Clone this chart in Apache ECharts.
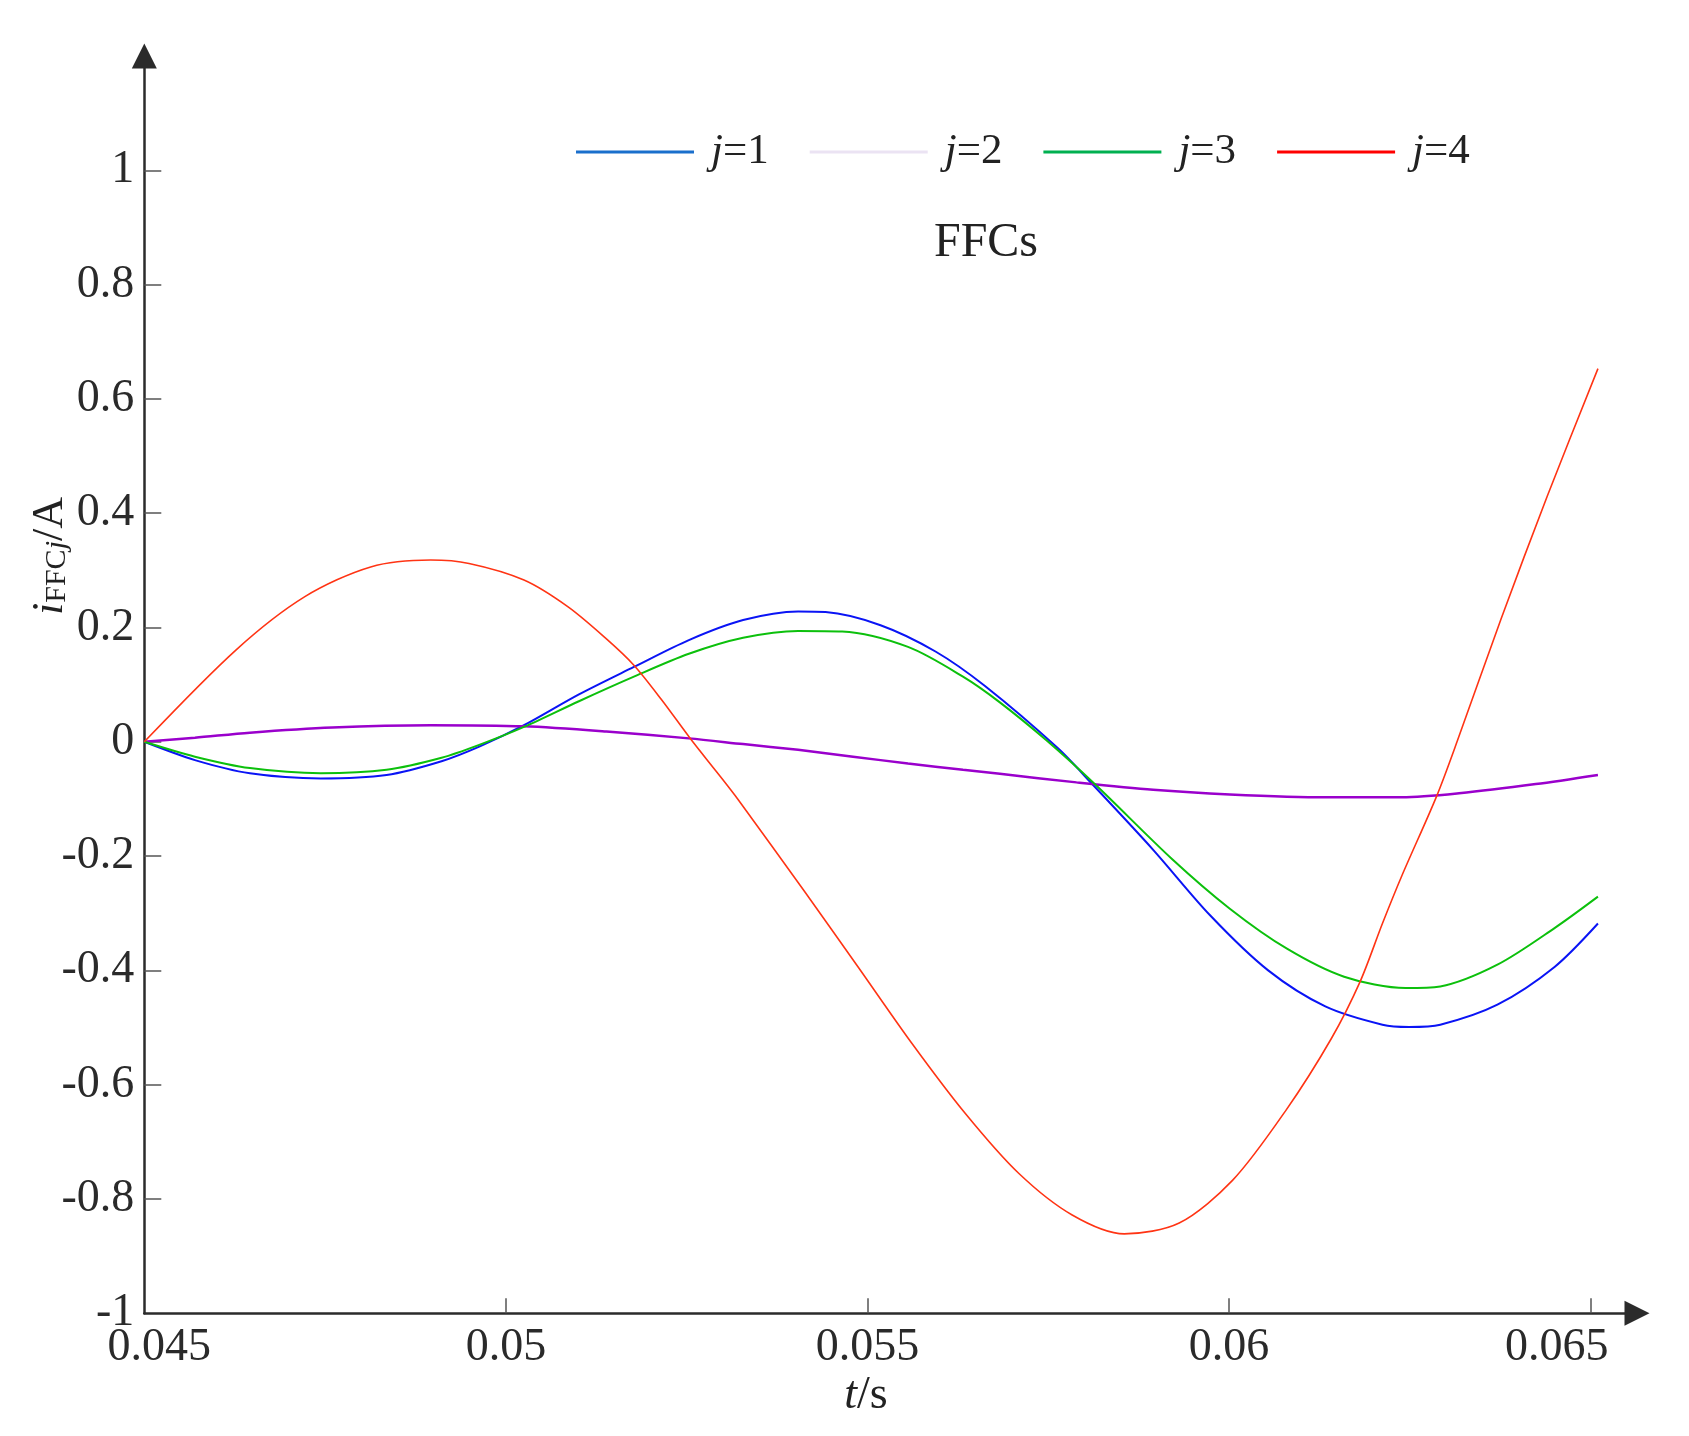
<!DOCTYPE html>
<html><head><meta charset="utf-8">
<script src="https://cdn.jsdelivr.net/npm/echarts@6/dist/echarts.min.js"></script>
<style>html,body{margin:0;padding:0;background:#fff}#c{width:1689px;height:1436px}</style>
</head><body><div id="c"></div>
<script>
// ---- tick values / labels ----
const xTicks = [0.045, 0.05, 0.055, 0.06, 0.065];
const xTickLabels = ['0.045', '0.05', '0.055', '0.06', '0.065'];
const yTicks = [-1, -0.8, -0.6, -0.4, -0.2, 0, 0.2, 0.4, 0.6, 0.8, 1];
const yTickLabels = ['-1', '-0.8', '-0.6', '-0.4', '-0.2', '0', '0.2', '0.4', '0.6', '0.8', '1'];

// ---- series names ----
const seriesNames = ['j=1', 'j=2', 'j=3', 'j=4'];

// ---- j=1 (blue) ----
const tJ1 = [0.04500, 0.04570, 0.04646, 0.04744, 0.04835, 0.04911, 0.04964, 0.05025, 0.05101, 0.05177,
             0.05253, 0.05328, 0.05404, 0.05442, 0.05518, 0.05594, 0.05662, 0.05763, 0.05810, 0.05895,
             0.05974, 0.06054, 0.06133, 0.06212, 0.06249, 0.06292, 0.06371, 0.06450, 0.06510];
const vJ1 = [0, -0.032, -0.055, -0.064, -0.058, -0.034, -0.008, 0.029, 0.083, 0.131,
             0.178, 0.213, 0.228, 0.227, 0.204, 0.158, 0.098, -0.011, -0.073, -0.189,
             -0.304, -0.400, -0.463, -0.495, -0.499, -0.495, -0.460, -0.394, -0.318];

// ---- j=2 (purple) ----
const tJ2 = [0.04500, 0.04570, 0.04646, 0.04760, 0.04896, 0.05025, 0.05139, 0.05253, 0.05328, 0.05404,
             0.05480, 0.05556, 0.05632, 0.05683, 0.05789, 0.05895, 0.06001, 0.06133, 0.06239, 0.06318,
             0.06424, 0.06510];
const vJ2 = [0, 0.007, 0.016, 0.025, 0.029, 0.027, 0.018, 0.006, -0.004, -0.014,
             -0.026, -0.038, -0.049, -0.056, -0.071, -0.084, -0.092, -0.097, -0.097, -0.090,
             -0.074, -0.058];

// ---- j=3 (green) ----
const tJ3 = [0.04500, 0.04570, 0.04646, 0.04744, 0.04835, 0.04911, 0.04964, 0.05025, 0.05101, 0.05177,
             0.05253, 0.05328, 0.05404, 0.05465, 0.05556, 0.05632, 0.05683, 0.05747, 0.05816, 0.05921,
             0.06001, 0.06080, 0.06159, 0.06244, 0.06292, 0.06371, 0.06450, 0.06510];
const vJ3 = [0, -0.026, -0.046, -0.055, -0.049, -0.028, -0.005, 0.026, 0.071, 0.114,
             0.154, 0.182, 0.194, 0.193, 0.166, 0.114, 0.069, 0.003, -0.076, -0.205,
             -0.292, -0.362, -0.411, -0.431, -0.428, -0.390, -0.326, -0.271];

// ---- j=4 (red) ----
const tJ4 = [0.04500, 0.04627, 0.04722, 0.04813, 0.04896, 0.04949, 0.05025, 0.05086, 0.05139, 0.05177,
             0.05215, 0.05256, 0.05291, 0.05321, 0.05413, 0.05487, 0.05561, 0.05635, 0.05709, 0.05783,
             0.05855, 0.05931, 0.06005, 0.06079, 0.06141, 0.06181, 0.06212, 0.06239, 0.06287, 0.06316,
             0.06376, 0.06440, 0.06510];
const vJ4 = [0, 0.161, 0.254, 0.306, 0.318, 0.312, 0.283, 0.236, 0.180, 0.134,
             0.074, 0.004, -0.052, -0.101, -0.262, -0.394, -0.527, -0.650, -0.755, -0.828,
             -0.861, -0.842, -0.767, -0.644, -0.520, -0.420, -0.318, -0.234, -0.095, 0.003,
             0.215, 0.430, 0.653];

const FONT = '"Liberation Serif", "Times New Roman", serif';
const lineColors = ['#0a14f5', '#9a00cc', '#0cc00c', '#ff3414'];
const legendColors = ['#1a6fcc', '#ebe3f3', '#00b050', '#ff0000'];
const lineWidths = [2, 2.5, 2, 1.6];

const pairs = (ts, vs) => ts.map((t, i) => [t, vs[i]]);
const dataSets = [pairs(tJ1, vJ1), pairs(tJ2, vJ2), pairs(tJ3, vJ3), pairs(tJ4, vJ4)];

function nearestIdx(arr, v) {
  let b = 0;
  for (let i = 1; i < arr.length; i++) if (Math.abs(arr[i] - v) < Math.abs(arr[b] - v)) b = i;
  return b;
}

const chart = echarts.init(document.getElementById('c'));
chart.setOption({
  backgroundColor: '#ffffff',
  animation: false,
  grid: { left: 144.3, right: 52, top: 56, bottom: 122.7, containLabel: false },
  legend: {
    left: 571, top: 122,
    icon: 'rect', itemWidth: 118, itemHeight: 3, itemGap: 41,
    data: seriesNames.map((n, i) => ({ name: n, itemStyle: { color: legendColors[i] }, lineStyle: { color: legendColors[i] } })),
    formatter: function (name) { return '{g|}{i|j}' + name.slice(1); },
    textStyle: {
      fontFamily: FONT, fontSize: 43, color: '#222', lineHeight: 50,
      rich: { g: { width: 12 }, i: { fontStyle: 'italic', fontFamily: FONT, fontSize: 43, color: '#222' } }
    }
  },
  xAxis: {
    type: 'value', min: 0.045, max: 0.06564, interval: 0.005,
    axisLine: { show: true, onZero: false, symbol: ['none', 'triangle'], symbolSize: [25, 25],
      lineStyle: { color: '#2b2b2b', width: 2.5 } },
    axisTick: { show: true, inside: true, length: 15, customValues: xTicks.slice(1),
      lineStyle: { color: '#555', width: 1.5 } },
    axisLabel: {
      show: true, customValues: xTicks, margin: 12,
      fontFamily: FONT, fontSize: 46, color: '#2a2a2a',
      formatter: function (v) {
        const i = nearestIdx(xTicks, v);
        if (i === 0) return '{f|' + xTickLabels[i] + '}';
        if (i === xTicks.length - 1) return '{l|' + xTickLabels[i] + '}';
        return xTickLabels[i];
      },
      rich: {
        f: { padding: [0, 0, 0, 30], fontFamily: FONT, fontSize: 46, color: '#2a2a2a' },
        l: { padding: [0, 68, 0, 0], fontFamily: FONT, fontSize: 46, color: '#2a2a2a' }
      }
    },
    splitLine: { show: false }
  },
  yAxis: {
    type: 'value', min: -1, max: 1.2, interval: 0.2,
    axisLine: { show: true, onZero: false, symbol: ['none', 'triangle'], symbolSize: [25, 25],
      lineStyle: { color: '#2b2b2b', width: 2.5 } },
    axisTick: { show: true, inside: true, length: 17, customValues: yTicks.slice(1),
      lineStyle: { color: '#555', width: 1.5 } },
    axisLabel: {
      show: true, customValues: yTicks, margin: 10,
      fontFamily: FONT, fontSize: 46, color: '#2a2a2a',
      formatter: function (v) { return yTickLabels[nearestIdx(yTicks, v)]; }
    },
    splitLine: { show: false }
  },
  graphic: [
    { type: 'text', x: 986, y: 243,
      style: { text: 'FFCs', fontFamily: FONT, fontSize: 48, fill: '#222', align: 'center', verticalAlign: 'middle' } },
    { type: 'text', x: 866, y: 1396,
      style: { text: '{i|t}/s', fontFamily: FONT, fontSize: 46, fill: '#222', align: 'center', verticalAlign: 'middle',
        rich: { i: { fontStyle: 'italic', fontFamily: FONT, fontSize: 46, fill: '#222' } } } },
    { type: 'text', x: 47, y: 556, rotation: Math.PI / 2,
      style: { text: '{i|i}{s|FFC}{sj|j}{m|/A}', fontFamily: FONT, fontSize: 44, fill: '#222', align: 'center', verticalAlign: 'middle',
        rich: {
          i: { fontStyle: 'italic', fontFamily: FONT, fontSize: 44, lineHeight: 50, verticalAlign: 'bottom', fill: '#222' },
          m: { fontFamily: FONT, fontSize: 44, lineHeight: 50, verticalAlign: 'bottom', fill: '#222' },
          s: { fontFamily: FONT, fontSize: 30, lineHeight: 24, verticalAlign: 'bottom', fill: '#222' },
          sj: { fontStyle: 'italic', fontFamily: FONT, fontSize: 30, lineHeight: 24, verticalAlign: 'bottom', fill: '#222' }
        } } }
  ],
  series: seriesNames.map((n, i) => ({
    name: n, type: 'line', data: dataSets[i], smooth: 0.3,
    showSymbol: false, symbol: 'none',
    lineStyle: { color: lineColors[i], width: lineWidths[i] },
    itemStyle: { color: lineColors[i] },
    emphasis: { disabled: true }
  }))
});
</script>
</body></html>
